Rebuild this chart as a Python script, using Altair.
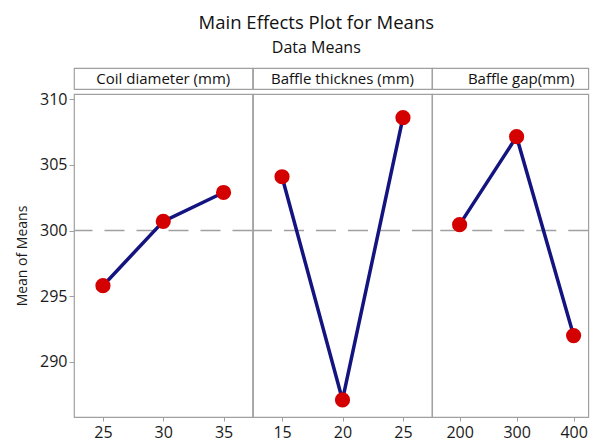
import altair as alt
import pandas as pd

factors = ["Coil diameter (mm)", "Baffle thicknes (mm)", "Baffle gap(mm)"]
levels = [["25", "30", "35"], ["15", "20", "25"], ["200", "300", "400"]]
means = [[295.8, 300.7, 302.9], [304.1, 287.1, 308.6], [300.45, 307.15, 292.0]]
grand_mean = [300.0]
y_ticks = [290, 295, 300, 305, 310]
y_domain = [285.8, 310.4]

FONT = "Open Sans"
# the reference's last panel runs past the picture's right edge; it is
# narrowed here so that the whole chart fits the window
PANEL_W = [178.5, 179, 156.3]
X_PAD = [0.48, 0.48, 0.371]
X_ALIGN = [0.5, 0.5, 0.6525]
HEAD_DX = [0, 0, 11]
PLOT_H = 323
HEAD_H = 21
FRAME = "#a0a0a0"


def plot_panel(i):
    first = i == 0
    df = pd.DataFrame({"level": levels[i], "mean": means[i]})
    ref_df = pd.DataFrame({"mean": grand_mean})
    x = alt.X(
        "level:O",
        sort=levels[i],
        scale=alt.Scale(type="point", padding=X_PAD[i], align=X_ALIGN[i]),
        axis=alt.Axis(
            title=None, labelAngle=0, domain=False, tickSize=4,
            tickColor=FRAME, labelFontSize=16, labelFont=FONT,
            labelColor="#1a1a1a", labelPadding=3,
        ),
    )
    if first:
        yaxis = alt.Axis(
            title="Mean of Means", values=y_ticks, domain=False, grid=False,
            tickSize=5, tickColor=FRAME, labelFontSize=16, labelFont=FONT,
            labelColor="#1a1a1a", labelPadding=2, titleFont=FONT,
            titleFontSize=14, titleFontWeight="normal", titleColor="#1a1a1a",
            titlePadding=10,
        )
    else:
        yaxis = None
    yscale = alt.Scale(domain=y_domain, nice=False, zero=False)
    y = alt.Y("mean:Q", scale=yscale, axis=yaxis)

    ref = alt.Chart(ref_df).mark_rule(
        color="#a0a0a0", strokeWidth=1.6, strokeDash=[20, 12]
    ).encode(y=y)
    line = alt.Chart(df).mark_line(color="#141480", strokeWidth=3.5).encode(x=x, y=y)
    pts = alt.Chart(df).mark_point(
        filled=True, color="#d40000", opacity=1, size=230
    ).encode(x=x, y=y)
    return alt.layer(ref, line, pts).properties(width=PANEL_W[i], height=PLOT_H)


def header_panel(i):
    return alt.Chart(pd.DataFrame({"f": [factors[i]]})).mark_text(
        font=FONT, fontSize=15, color="#111111", baseline="middle",
        align="center", dx=HEAD_DX[i],
    ).encode(
        text="f:N",
        x=alt.X("f:N", axis=None, scale=alt.Scale(paddingInner=0, paddingOuter=0)),
    ).properties(width=PANEL_W[i], height=HEAD_H)


headers = alt.hconcat(*[header_panel(i) for i in range(3)], spacing=0, bounds="flush")
plots = alt.hconcat(*[plot_panel(i) for i in range(3)], spacing=0, bounds="flush")

chart = alt.vconcat(headers, plots, spacing=0).properties(
    title=alt.TitleParams(
        text="Main Effects Plot for Means",
        subtitle="Data Means",
        font=FONT, fontSize=18.5, fontWeight="normal", color="#111111",
        subtitleFont=FONT, subtitleFontSize=16, subtitleColor="#111111",
        anchor="middle", offset=11.5, subtitlePadding=7, dx=14,
    ),
    padding={"left": 6, "top": 6, "right": 0, "bottom": 0},
).configure_view(stroke=FRAME, strokeWidth=1.2).configure_concat(spacing=0)

chart.save("out.html", embed_options={"renderer": "svg", "actions": False})
